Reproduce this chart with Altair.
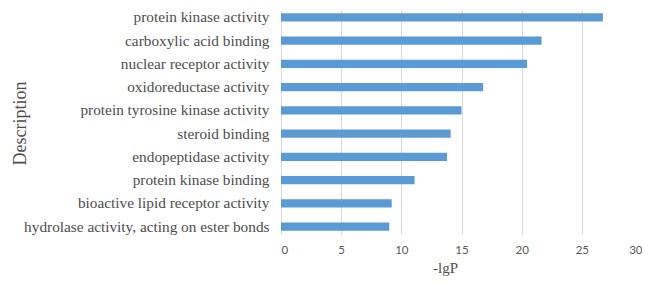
import altair as alt
import pandas as pd

descriptions = [
    "protein kinase activity",
    "carboxylic acid binding",
    "nuclear receptor activity",
    "oxidoreductase activity",
    "protein tyrosine kinase activity",
    "steroid binding",
    "endopeptidase activity",
    "protein kinase binding",
    "bioactive lipid receptor activity",
    "hydrolase activity, acting on ester bonds",
]
neg_log_p = [26.75, 21.65, 20.45, 16.8, 15.0, 14.1, 13.8, 11.1, 9.2, 9.0]
x_ticks = [0, 5, 10, 15, 20, 25, 30]

df = pd.DataFrame({"Description": descriptions, "lgP": neg_log_p})

chart = alt.Chart(df).mark_bar(color="#5B9BD5").encode(
    x=alt.X(
        "lgP:Q",
        scale=alt.Scale(domain=[0, 30], nice=False),
        axis=alt.Axis(
            title="-lgP",
            values=x_ticks,
            grid=True,
            gridColor="#D9D9D9",
            domain=False,
            ticks=False,
            labelFont="Lato",
            labelFontSize=11.5,
            labelColor="#595959",
            labelPadding=10,
            titleFont="Liberation Serif",
            titleFontSize=15,
            titleFontWeight="normal",
            titleColor="#4d4d4d",
            titleX=164,
            titleY=33,
            titleBaseline="middle",
            titleAlign="center",
        ),
    ),
    y=alt.Y(
        "Description:N",
        sort=descriptions,
        scale=alt.Scale(paddingInner=0.645, paddingOuter=0.14),
        axis=alt.Axis(
            title="Description",
            domain=True,
            domainColor="#D9D9D9",
            ticks=False,
            labelFont="Liberation Serif",
            labelFontSize=15.3,
            labelColor="#4d4d4d",
            labelPadding=12,
            labelLimit=300,
            titleFont="Liberation Serif",
            titleFontSize=18,
            titleFontWeight="normal",
            titleColor="#4d4d4d",
            titleX=-261,
            titleY=113,
            titleAngle=-90,
            titleBaseline="middle",
            titleAlign="center",
        ),
    ),
).properties(
    width=361,
    height=224,
    autosize=alt.AutoSizeParams(type="none"),
    padding={"left": 273, "top": 2, "right": 0, "bottom": 43},
).configure_view(stroke=None)

chart.save("out.html", embed_options={"renderer": "svg", "actions": False})
